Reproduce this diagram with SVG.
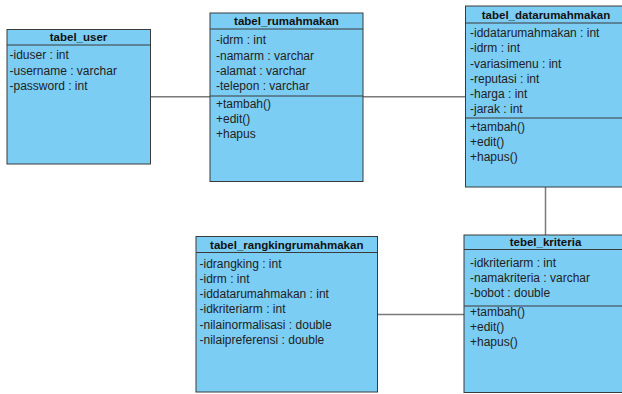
<svg xmlns="http://www.w3.org/2000/svg" width="622" height="394" viewBox="0 0 622 394">
<style>
.box{fill:#7ccdf4;stroke:#3a3a3a;stroke-width:1}
.div{stroke:#3a3a3a;stroke-width:1}
.t{font-family:"Liberation Sans",Arial,sans-serif;font-size:12px;fill:#222}
.h{font-family:"Liberation Sans",Arial,sans-serif;font-size:11.5px;font-weight:bold;fill:#111;text-anchor:middle}
.c{stroke:#7a7a7a;stroke-width:1.5;fill:none}
</style>
<rect width="622" height="394" fill="#ffffff"/>
<g id="connectors">
<line class="c" x1="150.5" y1="96.8" x2="210" y2="96.8"/>
<line class="c" x1="363" y1="96.8" x2="465.5" y2="96.8"/>
<line class="c" x1="545.5" y1="187" x2="545.5" y2="235"/>
<line class="c" x1="377.5" y1="314.5" x2="464" y2="314.5"/>
</g>
<g id="tabel_user">
<rect class="box" x="7" y="29.5" width="143.5" height="134.5"/>
<line class="div" x1="7" y1="45" x2="150.5" y2="45"/>
<text class="h" x="78.5" y="41">tabel_user</text>
<text class="t" x="9.5" y="59">-iduser : int</text>
<text class="t" x="9.5" y="75">-username : varchar</text>
<text class="t" x="9.5" y="90">-password : int</text>
</g>
<g id="tabel_rumahmakan">
<rect class="box" x="210" y="13" width="153" height="168.5"/>
<line class="div" x1="210" y1="29" x2="363" y2="29"/>
<line class="div" x1="210" y1="96" x2="363" y2="96"/>
<text class="h" x="286.5" y="25">tabel_rumahmakan</text>
<text class="t" x="216" y="44">-idrm : int</text>
<text class="t" x="216" y="59.5">-namarm : varchar</text>
<text class="t" x="216" y="74.5">-alamat : varchar</text>
<text class="t" x="216" y="89.5">-telepon : varchar</text>
<text class="t" x="216" y="107.5">+tambah()</text>
<text class="t" x="216" y="122.5">+edit()</text>
<text class="t" x="216" y="137.5">+hapus</text>
</g>
<g id="tabel_datarumahmakan">
<rect class="box" x="465.5" y="6" width="161" height="181"/>
<line class="div" x1="465.5" y1="23" x2="626.5" y2="23"/>
<line class="div" x1="465.5" y1="118" x2="626.5" y2="118"/>
<text class="h" x="546" y="18.5">tabel_datarumahmakan</text>
<text class="t" x="470" y="36.5">-iddatarumahmakan : int</text>
<text class="t" x="470" y="52">-idrm : int</text>
<text class="t" x="470" y="67.5">-variasimenu : int</text>
<text class="t" x="470" y="82.5">-reputasi : int</text>
<text class="t" x="470" y="98">-harga : int</text>
<text class="t" x="470" y="113">-jarak : int</text>
<text class="t" x="470" y="130.5">+tambah()</text>
<text class="t" x="470" y="145.5">+edit()</text>
<text class="t" x="470" y="160.5">+hapus()</text>
</g>
<g id="tebel_kriteria">
<rect class="box" x="464" y="235" width="163" height="157.5"/>
<line class="div" x1="464" y1="249.5" x2="627" y2="249.5"/>
<line class="div" x1="464" y1="306" x2="627" y2="306"/>
<text class="h" x="545.5" y="246">tebel_kriteria</text>
<text class="t" x="470" y="266.5">-idkriteriarm : int</text>
<text class="t" x="470" y="281.5">-namakriteria : varchar</text>
<text class="t" x="470" y="297">-bobot : double</text>
<text class="t" x="470" y="315.5">+tambah()</text>
<text class="t" x="470" y="330.5">+edit()</text>
<text class="t" x="470" y="345.5">+hapus()</text>
</g>
<g id="tabel_rangkingrumahmakan">
<rect class="box" x="196" y="236.5" width="181.5" height="155.5"/>
<line class="div" x1="196" y1="252.5" x2="377.5" y2="252.5"/>
<text class="h" x="286.75" y="248.5">tabel_rangkingrumahmakan</text>
<text class="t" x="199.5" y="268">-idrangking : int</text>
<text class="t" x="199.5" y="282.5">-idrm : int</text>
<text class="t" x="199.5" y="298">-iddatarumahmakan : int</text>
<text class="t" x="199.5" y="313">-idkriteriarm : int</text>
<text class="t" x="199.5" y="328.5">-nilainormalisasi : double</text>
<text class="t" x="199.5" y="344">-nilaipreferensi : double</text>
</g>
</svg>
